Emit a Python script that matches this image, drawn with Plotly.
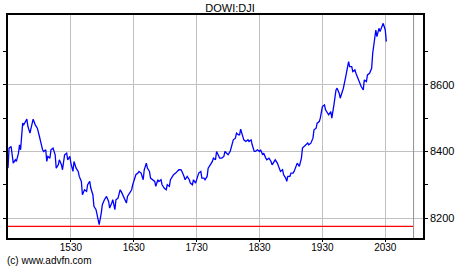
import pandas as pd
import plotly.graph_objects as go

# minutes after 14:30 and index level
minutes = [0, 1, 3, 5, 7, 8, 10, 11, 12, 14, 15, 18, 19, 21, 22, 24, 26, 28, 30, 31,
           33, 34, 36, 37, 38, 40, 41, 43, 45, 46, 48, 49, 51, 52, 54, 56, 57, 59, 60, 62,
           63, 65, 67, 68, 70, 71, 73, 75, 76, 78, 79, 81, 82, 84, 85, 87, 89, 90, 92, 94,
           96, 97, 99, 100, 102, 103, 105, 107, 108, 110, 111, 113, 114, 116, 118, 119, 121, 122, 124, 125,
           127, 129, 130, 132, 133, 135, 136, 138, 140, 141, 143, 144, 146, 147, 149, 151, 152, 154, 155, 157,
           158, 160, 162, 163, 165, 166, 168, 169, 171, 173, 174, 176, 177, 179, 181, 182, 184, 185, 187, 188,
           190, 191, 193, 195, 196, 198, 199, 201, 202, 204, 206, 207, 209, 210, 212, 213, 215, 217, 218, 220,
           221, 222, 224, 225, 227, 229, 230, 232, 233, 235, 236, 238, 240, 241, 243, 244, 246, 247, 249, 251,
           252, 254, 255, 257, 258, 260, 262, 263, 265, 266, 267, 269, 270, 272, 273, 275, 276, 278, 280, 281,
           283, 284, 286, 287, 289, 291, 292, 294, 295, 297, 298, 300, 302, 303, 305, 306, 308, 309, 311, 313,
           314, 316, 317, 319, 320, 322, 324, 325, 326, 328, 329, 331, 332, 334, 336, 337, 339, 340, 342, 343,
           345, 347, 348, 350, 351, 352, 354, 355, 357, 358, 360, 361]
values = [8350, 8410, 8415, 8365, 8375, 8370, 8395, 8420, 8405, 8485, 8480, 8497, 8475, 8455, 8470, 8497, 8480, 8470, 8445, 8430,
          8405, 8400, 8405, 8370, 8385, 8380, 8405, 8410, 8390, 8350, 8360, 8375, 8360, 8345, 8390, 8395, 8375, 8385, 8365, 8340,
          8370, 8350, 8340, 8325, 8310, 8270, 8285, 8280, 8300, 8310, 8290, 8270, 8235, 8225, 8210, 8180, 8215, 8240, 8255, 8265,
          8250, 8230, 8245, 8255, 8225, 8255, 8260, 8285, 8280, 8265, 8260, 8245, 8265, 8275, 8285, 8300, 8320, 8330, 8335, 8340,
          8335, 8315, 8345, 8365, 8350, 8340, 8320, 8315, 8310, 8295, 8315, 8310, 8315, 8300, 8290, 8285, 8300, 8295, 8315, 8325,
          8330, 8335, 8340, 8345, 8345, 8340, 8325, 8315, 8325, 8315, 8305, 8300, 8315, 8305, 8325, 8335, 8340, 8320, 8320, 8315,
          8325, 8350, 8360, 8370, 8380, 8375, 8400, 8385, 8380, 8380, 8385, 8400, 8395, 8390, 8400, 8415, 8435, 8440, 8455, 8450,
          8450, 8467, 8445, 8435, 8430, 8435, 8430, 8435, 8420, 8400, 8400, 8405, 8400, 8405, 8390, 8395, 8380, 8375, 8380, 8370,
          8360, 8370, 8375, 8365, 8355, 8340, 8345, 8330, 8320, 8310, 8325, 8325, 8335, 8335, 8340, 8360, 8365, 8355, 8380, 8410,
          8415, 8420, 8425, 8420, 8425, 8440, 8465, 8470, 8485, 8490, 8500, 8535, 8540, 8525, 8515, 8510, 8520, 8500, 8540, 8585,
          8590, 8575, 8560, 8580, 8590, 8620, 8650, 8670, 8655, 8655, 8640, 8645, 8635, 8620, 8600, 8595, 8585, 8615, 8610, 8630,
          8635, 8650, 8695, 8750, 8765, 8745, 8770, 8760, 8780, 8785, 8765, 8730]

prev_close = 8175
tick_times = ["15:30", "16:30", "17:30", "18:30", "19:30", "20:30"]
tick_labels = ["1530", "1630", "1730", "1830", "1930", "2030"]
major_levels = [8200, 8400, 8600]
minor_levels = [8300, 8500, 8700]
close_time = "20:57"
title = "DOWI:DJI"
footer = "(c) www.advfn.com"

day = "2024-01-02 "
start = pd.Timestamp(day + "14:30")
xs = [start + pd.Timedelta(minutes=m) for m in minutes]
tickvals = [pd.Timestamp(day + t) for t in tick_times]
close_ts = pd.Timestamp(day + close_time)

fig = go.Figure()
fig.add_trace(go.Scatter(x=xs, y=values, mode="lines",
                         line=dict(color="#0000ff", width=1.3), hoverinfo="skip"))

# previous close line
fig.add_shape(type="line", xref="x", yref="y", x0=start, x1=close_ts,
              y0=prev_close, y1=prev_close, line=dict(color="#ff0000", width=1.3))
# session end marker
fig.add_shape(type="line", xref="x", yref="paper", x0=close_ts, x1=close_ts,
              y0=0, y1=1, line=dict(color="#909090", width=1))

fig.update_layout(
    width=460, height=266,
    margin=dict(l=3, r=37, t=15, b=28),
    paper_bgcolor="white", plot_bgcolor="white",
    showlegend=False,
    font=dict(family="Liberation Sans, Arial, sans-serif", size=11, color="black"),
    title=dict(text=title, x=0.5, xanchor="center", y=1 - 8 / 266, yanchor="middle",
               font=dict(size=11, color="black")),
)
fig.update_xaxes(
    range=[start, pd.Timestamp(day + "21:06")],
    tickvals=tickvals, ticktext=tick_labels,
    showgrid=True, gridcolor="#c0c0c0", gridwidth=1,
    showline=True, linecolor="black", linewidth=1.5, mirror=True,
    ticks="outside", ticklen=2, tickcolor="black", ticklabelstandoff=-3,
    tickfont=dict(size=10), zeroline=False,
)
fig.update_yaxes(
    range=[8140, 8810], side="right",
    tickvals=major_levels, ticktext=[str(v) for v in major_levels],
    showgrid=True, gridcolor="#c0c0c0", gridwidth=1,
    showline=True, linecolor="black", linewidth=1.5, mirror="allticks",
    ticks="outside", ticklen=3, tickcolor="black",
    minor=dict(tickvals=minor_levels, ticks="outside", ticklen=3, tickcolor="black", showgrid=False),
    tickfont=dict(size=11), zeroline=False,
)
fig.add_annotation(text=footer, xref="paper", yref="paper", x=-3 / 420, y=-22 / 223,
                   xanchor="left", yanchor="middle", showarrow=False,
                   font=dict(size=10, color="black"))

fig.write_html("out.html")
